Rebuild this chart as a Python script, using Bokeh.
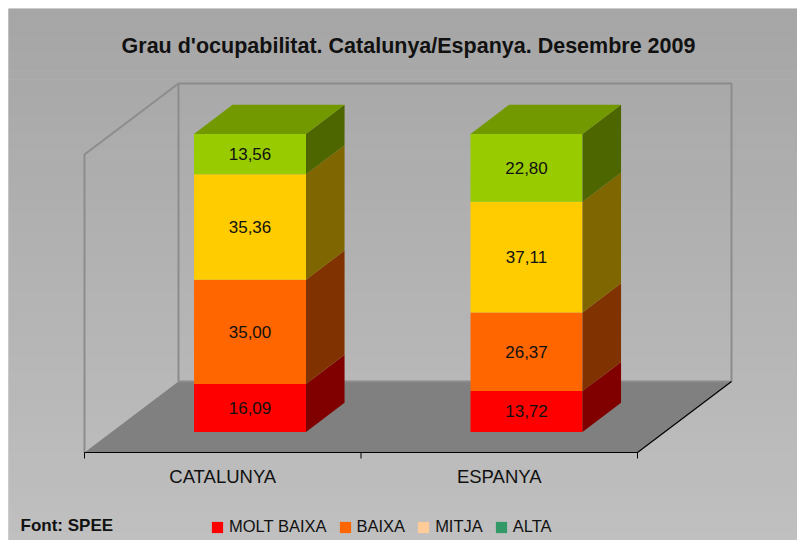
import numpy as np
from bokeh.plotting import figure
from bokeh.models import Range1d, Legend, LegendItem, Label
from bokeh.embed import file_html
from bokeh.resources import INLINE

# ---------------- data ----------------
categories = ["CATALUNYA", "ESPANYA"]
series = ["MOLT BAIXA", "BAIXA", "MITJA", "ALTA"]
molt_baixa = [16.09, 13.72]
baixa = [35.00, 26.37]
mitja = [35.36, 37.11]
alta = [13.56, 22.80]
values = [molt_baixa, baixa, mitja, alta]

title_text = "Grau d'ocupabilitat. Catalunya/Espanya. Desembre 2009"
source_text = "Font: SPEE"

# ---------------- styles ----------------
front_colors = ["#FF0000", "#FF6600", "#FFCC00", "#99CC00"]
side_colors = ["#800000", "#803300", "#806600", "#4D6600"]
top_color = "#739900"
legend_colors = ["#FF0000", "#FF6600", "#FFCC99", "#339966"]
FONT = "Liberation Sans"

W, H = 797, 540
OFF_X, OFF_Y = 8.0, 8.0          # white margin around the chart area
# page-pixel geometry of the front plane (category units / value units)
PX0, PX_PER_CAT = 84.0, 276.5
PY0, PY_PER_VAL = 452.0, 2.98


def X(px):
    return (px - PX0) / PX_PER_CAT


def Y(py):
    return (PY0 - py) / PY_PER_VAL


DX = 94.0 / PX_PER_CAT   # depth offset (x) for full depth
DY = 71.0 / PY_PER_VAL   # depth offset (y) for full depth
Z0, Z1 = 0.29, 0.70      # bar depth span
BAR_W = 0.405
VMAX = 100

p = figure(width=W, height=H, output_backend="svg", toolbar_location=None,
           x_range=Range1d(X(OFF_X), X(W)),
           y_range=Range1d(Y(H), Y(OFF_Y)),
           x_axis_location=None, y_axis_location=None,
           min_border_left=int(OFF_X), min_border_top=int(OFF_Y),
           min_border_right=0, min_border_bottom=0)
p.grid.visible = False
p.outline_line_color = None
p.background_fill_color = "#B4B4B4"
p.border_fill_color = "white"

# background vertical gradient
n = 60
edges = np.linspace(Y(OFF_Y), Y(H), n + 1)
shades = np.linspace(166, 192, n).astype(int)
p.quad(left=X(OFF_X) - 1, right=X(W) + 1, top=edges[:-1], bottom=edges[1:],
       fill_color=["#%02x%02x%02x" % (s, s, s) for s in shades], line_color=None)

ncat = len(categories)
# floor
p.patch([0, ncat, ncat + DX, DX], [0, 0, DY, DY], fill_color="#808080", line_color=None)
# walls (outlines)
wall = "#8C8C8C"
p.line([DX, DX, ncat + DX, ncat + DX], [DY, VMAX + DY, VMAX + DY, DY], line_color=wall, line_width=2)
p.line([DX, ncat + DX], [DY, DY], line_color=wall, line_width=2)
p.line([0, 0, DX], [0, VMAX, VMAX + DY], line_color=wall, line_width=2)
# floor front edges (category axis)
p.line([0, ncat, ncat + DX], [0, 0, DY], line_color="black", line_width=1.2)
tick_len = 6 / PY_PER_VAL
p.segment(x0=list(range(ncat + 1)), y0=[0] * (ncat + 1),
          x1=list(range(ncat + 1)), y1=[-tick_len] * (ncat + 1), line_color="black")

# bars
for i, cat in enumerate(categories):
    c = i + 0.5
    x0, x1 = c - BAR_W / 2, c + BAR_W / 2
    bottom = 0.0
    for k in range(len(series)):
        v = values[k][i]
        top = bottom + v
        # front face
        fx = [x0 + Z0 * DX, x1 + Z0 * DX, x1 + Z0 * DX, x0 + Z0 * DX]
        fy = [bottom + Z0 * DY, bottom + Z0 * DY, top + Z0 * DY, top + Z0 * DY]
        p.patch(fx, fy, fill_color=front_colors[k], line_color=None)
        # side face
        sx = [x1 + Z0 * DX, x1 + Z1 * DX, x1 + Z1 * DX, x1 + Z0 * DX]
        sy = [bottom + Z0 * DY, bottom + Z1 * DY, top + Z1 * DY, top + Z0 * DY]
        p.patch(sx, sy, fill_color=side_colors[k], line_color=None)
        if k == len(series) - 1:
            tx = [x0 + Z0 * DX, x1 + Z0 * DX, x1 + Z1 * DX, x0 + Z1 * DX]
            ty = [top + Z0 * DY] * 2 + [top + Z1 * DY] * 2
            p.patch(tx, ty, fill_color=top_color, line_color=None)
        # value label
        p.text(x=[c + Z0 * DX], y=[(bottom + top) / 2 + Z0 * DY],
               text=[("%.2f" % v).replace(".", ",")],
               text_font={"value": FONT}, text_font_size="17px", text_color="#111111",
               text_align="center", text_baseline="middle")
        bottom = top

# category labels
p.text(x=[i + 0.5 for i in range(ncat)], y=[Y(476)] * ncat, text=categories,
       text_font={"value": FONT}, text_font_size="18.5px", text_color="#111111",
       text_align="center", text_baseline="middle")

# title and source
p.add_layout(Label(x=X(408), y=Y(45), text=title_text, text_font=FONT,
                   text_font_size="21.5px", text_font_style="bold", text_color="#111111",
                   text_align="center", text_baseline="middle"))
p.add_layout(Label(x=X(20), y=Y(525), text=source_text, text_font=FONT,
                   text_font_size="17px", text_font_style="bold", text_color="#111111",
                   text_align="left", text_baseline="middle"))

# legend with placeholder renderers (NaN data, nothing drawn in the plot)
items = []
for k, name in enumerate(series):
    r = p.quad(left=[np.nan], right=[np.nan], top=[np.nan], bottom=[np.nan],
               fill_color=legend_colors[k], line_color=None)
    items.append(LegendItem(label=name, renderers=[r]))
legend = Legend(items=items, orientation="horizontal", location=(202, 4),
                background_fill_alpha=0, border_line_color=None,
                glyph_width=14, glyph_height=14, label_standoff=5, spacing=11,
                padding=0, margin=0, label_text_font=FONT, label_text_font_size="16.5px",
                label_text_color="#111111")
p.add_layout(legend, "center")

open("out.html", "w").write(file_html(p, INLINE))
